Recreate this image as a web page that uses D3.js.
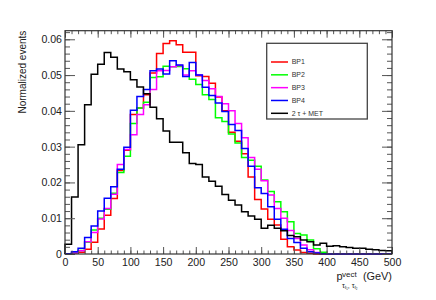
<!DOCTYPE html>
<html>
<head>
<meta charset="utf-8">
<script src="https://cdn.jsdelivr.net/npm/d3@7"></script>
<style>
  body { margin: 0; background: #fff; }
  svg { display: block; font-family: "Liberation Sans", Arial, sans-serif; }
</style>
</head>
<body>
<div id="chart"></div>
<script>
// bin low edges, 10 GeV wide
const binEdges = d3.range(0, 500, 10);

const bp1 = [0, 0.0002, 0.0005, 0.0013, 0.0033, 0.0070, 0.0108, 0.0155, 0.0233, 0.0290,
  0.0390, 0.0408, 0.0445, 0.0506, 0.0560, 0.0588, 0.0596, 0.0585, 0.0564, 0.0564,
  0.0498, 0.0496, 0.0477, 0.0439, 0.0400, 0.0340, 0.0315, 0.0280, 0.0215, 0.0152,
  0.0126, 0.0097, 0.0081, 0.0041, 0.0020, 0.0011, 0.0004, 0.0002, 0, 0,
  0, 0, 0, 0, 0, 0, 0, 0, 0, 0];

const bp2 = [0, 0.0003, 0.0010, 0.0033, 0.0067, 0.0100, 0.0125, 0.0170, 0.0228, 0.0273,
  0.0365, 0.0408, 0.0424, 0.0493, 0.0495, 0.0525, 0.0523, 0.0524, 0.0518, 0.0488,
  0.0474, 0.0445, 0.0432, 0.0381, 0.0370, 0.0335, 0.0310, 0.0270, 0.0262, 0.0245,
  0.0207, 0.0175, 0.0146, 0.0118, 0.0090, 0.0057, 0.0053, 0.0039, 0.0015, 0.0005,
  0.0001, 0, 0, 0, 0, 0, 0, 0, 0, 0];

const bp3 = [0, 0.0003, 0.0009, 0.0034, 0.0060, 0.0098, 0.0127, 0.0167, 0.0250, 0.0292,
  0.0333, 0.0390, 0.0417, 0.0460, 0.0512, 0.0513, 0.0523, 0.0527, 0.0500, 0.0512,
  0.0500, 0.0485, 0.0462, 0.0440, 0.0420, 0.0400, 0.0365, 0.0325, 0.0270, 0.0237,
  0.0205, 0.0165, 0.0127, 0.0100, 0.0066, 0.0043, 0.0025, 0.0012, 0.0004, 0.0001,
  0, 0, 0, 0, 0, 0, 0, 0, 0, 0];

const bp4 = [0.0001, 0.0006, 0.0016, 0.0046, 0.0078, 0.0120, 0.0156, 0.0188, 0.0237, 0.0298,
  0.0402, 0.0440, 0.0460, 0.0512, 0.0517, 0.0503, 0.0540, 0.0528, 0.0496, 0.0535,
  0.0500, 0.0466, 0.0443, 0.0422, 0.0398, 0.0362, 0.0345, 0.0295, 0.0245, 0.0185,
  0.0169, 0.0132, 0.0097, 0.0069, 0.0043, 0.0032, 0.0016, 0.0006, 0.0003, 0.0001,
  0, 0, 0, 0, 0, 0, 0, 0, 0, 0];

const met = [0.0027, 0.0159, 0.0305, 0.0417, 0.0502, 0.0530, 0.0563, 0.0550, 0.0517, 0.0509,
  0.0487, 0.0467, 0.0448, 0.0410, 0.0378, 0.0344, 0.0312, 0.0312, 0.0283, 0.0253,
  0.0250, 0.0215, 0.0203, 0.0189, 0.0166, 0.0150, 0.0137, 0.0118, 0.0106, 0.0097,
  0.0072, 0.0080, 0.0072, 0.0065, 0.0052, 0.0048, 0.0039, 0.0034, 0.0025, 0.0030,
  0.0022, 0.0023, 0.0020, 0.0018, 0.0016, 0.0016, 0.0013, 0.0012, 0.0010, 0.0009];

const seriesNames = ["BP1", "BP2", "BP3", "BP4", "2 \u03c4 + MET"];
const seriesColors = ["#ff0000", "#00ff00", "#ff00ff", "#0000ff", "#000000"];
const seriesValues = [bp1, bp2, bp3, bp4, met];

const xTicks = d3.range(0, 501, 50);
const yTicks = d3.range(0, 0.061, 0.01);

const W = 436, H = 300;
const x = d3.scaleLinear().domain([0, 500]).range([65, 392]);
const y = d3.scaleLinear().domain([0, 0.0624]).range([254, 30.7]);

const svg = d3.select("#chart").append("svg")
    .attr("width", W)
    .attr("height", H);

svg.append("rect").attr("width", W).attr("height", H).attr("fill", "#fff");

// histograms
const line = d3.line()
    .x(d => x(d[0]))
    .y(d => y(d[1]))
    .curve(d3.curveStepAfter);

seriesValues.forEach((vals, i) => {
    const pts = [[0, 0]];
    vals.forEach((v, j) => pts.push([binEdges[j], v]));
    pts.push([500, vals[vals.length - 1]]);
    pts.push([500, 0]);
    svg.append("path")
        .attr("d", line(pts))
        .attr("fill", "none")
        .attr("stroke", seriesColors[i])
        .attr("stroke-width", 1.5);
});

// axes, ROOT style: ticks inside the frame
const tickColor = "#555";
const styleAxis = g => {
    g.select(".domain").remove();
    g.selectAll("line").attr("stroke", tickColor).attr("stroke-width", 1);
    g.selectAll("text").attr("fill", "#222").style("font-size", "10.6px");
};

svg.append("g").attr("transform", "translate(0,254)")
    .call(d3.axisBottom(x).tickValues(d3.range(0, 501, 10)).tickSize(-3.5).tickFormat(""))
    .call(styleAxis);
svg.append("g").attr("transform", "translate(0,254)")
    .call(d3.axisBottom(x).tickValues(xTicks).tickSize(-7).tickPadding(4.5).tickFormat(d3.format("d")))
    .call(styleAxis);
svg.append("g").attr("transform", "translate(0,30.7)")
    .call(d3.axisTop(x).tickValues(d3.range(0, 501, 10)).tickSize(-3.5).tickFormat(""))
    .call(styleAxis);
svg.append("g").attr("transform", "translate(0,30.7)")
    .call(d3.axisTop(x).tickValues(xTicks).tickSize(-7).tickFormat(""))
    .call(styleAxis);

const yFmt = d => d < 1e-9 ? "0" : d3.format(".2f")(d);
svg.append("g").attr("transform", "translate(65,0)")
    .call(d3.axisLeft(y).tickValues(d3.range(0, 0.0621, 0.002)).tickSize(-5).tickFormat(""))
    .call(styleAxis);
svg.append("g").attr("transform", "translate(65,0)")
    .call(d3.axisLeft(y).tickValues(yTicks).tickSize(-10).tickPadding(3).tickFormat(yFmt))
    .call(styleAxis);
svg.append("g").attr("transform", "translate(392,0)")
    .call(d3.axisRight(y).tickValues(d3.range(0, 0.0621, 0.002)).tickSize(-5).tickFormat(""))
    .call(styleAxis);
svg.append("g").attr("transform", "translate(392,0)")
    .call(d3.axisRight(y).tickValues(yTicks).tickSize(-10).tickFormat(""))
    .call(styleAxis);

// frame
svg.append("rect")
    .attr("x", 65).attr("y", 30.7)
    .attr("width", 392 - 65).attr("height", 254 - 30.7)
    .attr("fill", "none")
    .attr("stroke", "#333")
    .attr("stroke-width", 1.2);

// y title
svg.append("text")
    .attr("transform", "translate(26,30.7) rotate(-90)")
    .attr("text-anchor", "end")
    .attr("fill", "#222")
    .style("font-size", "10px")
    .text("Normalized events");

// x title: p^{vect}_{tau_l1, tau_l2} (GeV)
const xt = svg.append("g").attr("fill", "#222");
xt.append("text").attr("x", 336.5).attr("y", 280).style("font-size", "11px").text("p");
xt.append("text").attr("x", 342).attr("y", 276.5).style("font-size", "8px").text("vect");
const sub = xt.append("text").attr("x", 342).attr("y", 287.5).style("font-size", "7px");
sub.append("tspan").text("\u03c4");
sub.append("tspan").attr("dy", 1.5).style("font-size", "4.5px").text("\u2113\u2081");
sub.append("tspan").attr("dy", -1.5).text(", \u03c4");
sub.append("tspan").attr("dy", 1.5).style("font-size", "4.5px").text("\u2113\u2082");
xt.append("text").attr("x", 392).attr("y", 280).attr("text-anchor", "end")
    .style("font-size", "10.9px").text("(GeV)");

// legend
const lg = svg.append("g");
lg.append("rect")
    .attr("x", 266.7).attr("y", 43.3)
    .attr("width", 100.6).attr("height", 75.7)
    .attr("fill", "#fff")
    .attr("stroke", "#444")
    .attr("stroke-width", 1.3);

const legendY = d3.scalePoint().domain(seriesNames).range([62, 113.3]);
seriesNames.forEach((name, i) => {
    const yy = legendY(name);
    lg.append("line")
        .attr("x1", 271).attr("x2", 288)
        .attr("y1", yy).attr("y2", yy)
        .attr("stroke", seriesColors[i])
        .attr("stroke-width", 1.5);
    lg.append("text")
        .attr("x", 291.7).attr("y", yy)
        .attr("dy", "0.35em")
        .attr("fill", "#333")
        .style("font-size", "7px")
        .text(name);
});
</script>
</body>
</html>
